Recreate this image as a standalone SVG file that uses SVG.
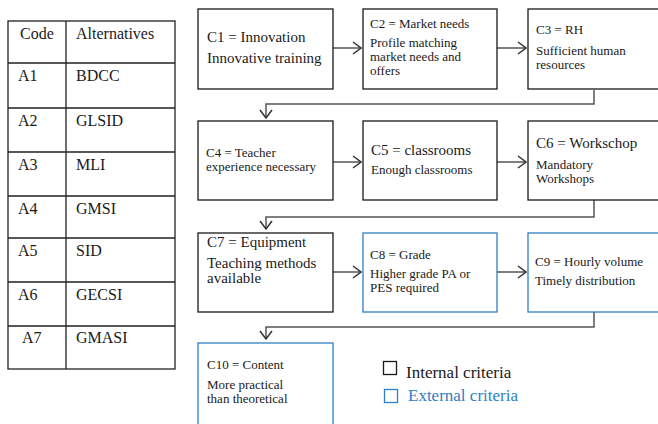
<svg xmlns="http://www.w3.org/2000/svg" width="658" height="424" viewBox="0 0 658 424" font-family="Liberation Serif, Times New Roman, DejaVu Serif, serif">
<defs>
<style>
text{font-family:Liberation Serif, Times New Roman, DejaVu Serif, serif;fill:#1a1a1a}
.t{font-size:16px}
.b15{font-size:15px}
.b13{font-size:13px}
.box{fill:#fff;stroke:#1a1a1a;stroke-width:1.3}
.ext{fill:#fff;stroke:#2e7ec6;stroke-width:1.3}
.grid{stroke:#222;stroke-width:1.3;fill:none}
.con{fill:none;stroke:#555;stroke-width:1.5}
</style>
<marker id="ah" markerUnits="userSpaceOnUse" markerWidth="14" markerHeight="14" viewBox="0 0 14 14" refX="13" refY="7" orient="auto">
<path d="M5,1 L13,7 L5,13" fill="none" stroke="#333" stroke-width="1.5"/>
</marker>
</defs>
<rect width="658" height="424" fill="#fff"/>

<g id="table">
<rect class="grid" x="8" y="21" width="167" height="348"/>
<line class="grid" x1="66" y1="21" x2="66" y2="369"/>
<path class="grid" d="M8 63H175M8 108H175M8 152H175M8 196H175M8 238H175M8 282H175M8 326H175"/>
<text class="t" x="20" y="39">Code</text>
<text class="t" x="76" y="39">Alternatives</text>
<text class="t" x="18" y="81">A1</text><text class="t" x="76" y="81">BDCC</text>
<text class="t" x="18" y="126">A2</text><text class="t" x="76" y="126">GLSID</text>
<text class="t" x="18" y="170">A3</text><text class="t" x="76" y="170">MLI</text>
<text class="t" x="18" y="214">A4</text><text class="t" x="76" y="214">GMSI</text>
<text class="t" x="18" y="256">A5</text><text class="t" x="76" y="256">SID</text>
<text class="t" x="18" y="300">A6</text><text class="t" x="76" y="300">GECSI</text>
<text class="t" x="22" y="343">A7</text><text class="t" x="76" y="343">GMASI</text>
</g>

<g id="connectors">
<line class="con" x1="333" y1="48" x2="361" y2="48" marker-end="url(#ah)"/>
<line class="con" x1="497" y1="48" x2="526" y2="48" marker-end="url(#ah)"/>
<path class="con" d="M594 90V104H266V118" marker-end="url(#ah)"/>
<line class="con" x1="333" y1="162" x2="361" y2="162" marker-end="url(#ah)"/>
<line class="con" x1="497" y1="162" x2="526" y2="162" marker-end="url(#ah)"/>
<path class="con" d="M594 200V217H266V229" marker-end="url(#ah)"/>
<line class="con" x1="333" y1="272" x2="361" y2="272" marker-end="url(#ah)"/>
<line class="con" x1="497" y1="272" x2="526" y2="272" marker-end="url(#ah)"/>
<path class="con" d="M594 312V327H266V339" marker-end="url(#ah)"/>
</g>

<g id="C1">
<rect class="box" x="198" y="9" width="135" height="80"/>
<text class="b15" x="207" y="42">C1 = Innovation</text>
<text class="b15" x="207" y="63">Innovative training</text>
</g>
<g id="C2">
<rect class="box" x="363" y="9" width="134" height="80"/>
<text class="b13" x="370" y="28">C2 = Market needs</text>
<text class="b13" x="370" y="47">Profile matching</text>
<text class="b13" x="370" y="61">market needs and</text>
<text class="b13" x="370" y="75">offers</text>
</g>
<g id="C3">
<rect class="box" x="528" y="9" width="132" height="80"/>
<text class="b13" x="536" y="34">C3 = RH</text>
<text class="b13" x="536" y="55">Sufficient human</text>
<text class="b13" x="536" y="69">resources</text>
</g>
<g id="C4">
<rect class="box" x="198" y="121" width="135" height="79"/>
<text class="b13" x="206" y="157">C4 = Teacher</text>
<text class="b13" x="206" y="171">experience necessary</text>
</g>
<g id="C5">
<rect class="box" x="363" y="121" width="134" height="79"/>
<text class="b15" x="371" y="155">C5 = classrooms</text>
<text class="b13" x="371" y="174">Enough classrooms</text>
</g>
<g id="C6">
<rect class="box" x="528" y="121" width="132" height="79"/>
<text class="b15" x="536" y="148">C6 = Workschop</text>
<text class="b13" x="536" y="169">Mandatory</text>
<text class="b13" x="536" y="183">Workshops</text>
</g>
<g id="C7">
<rect class="box" x="198" y="233" width="135" height="79"/>
<text class="b15" x="207" y="247">C7 = Equipment</text>
<text class="b15" x="207" y="268">Teaching methods</text>
<text class="b15" x="207" y="283">available</text>
</g>
<g id="C8">
<rect class="ext" x="363" y="233" width="134" height="79"/>
<text class="b13" x="370" y="259">C8 = Grade</text>
<text class="b13" x="370" y="278">Higher grade PA or</text>
<text class="b13" x="370" y="292">PES required</text>
</g>
<g id="C9">
<rect class="ext" x="528" y="233" width="132" height="79"/>
<text class="b13" x="535" y="266">C9 = Hourly volume</text>
<text class="b13" x="535" y="285">Timely distribution</text>
</g>
<g id="C10">
<rect class="ext" x="198" y="343" width="135" height="90"/>
<text class="b13" x="207" y="369">C10 = Content</text>
<text class="b13" x="207" y="389">More practical</text>
<text class="b13" x="207" y="403">than theoretical</text>
</g>

<g id="legend">
<rect x="383.5" y="361.5" width="13" height="13" fill="none" stroke="#1a1a1a" stroke-width="1.3"/>
<text x="406" y="378" style="font-size:17px">Internal criteria</text>
<rect x="384.5" y="389.5" width="13" height="13" fill="none" stroke="#2e7ec6" stroke-width="1.3"/>
<text x="408" y="401" style="font-size:17px;fill:#2e7ec6">External criteria</text>
</g>
</svg>
